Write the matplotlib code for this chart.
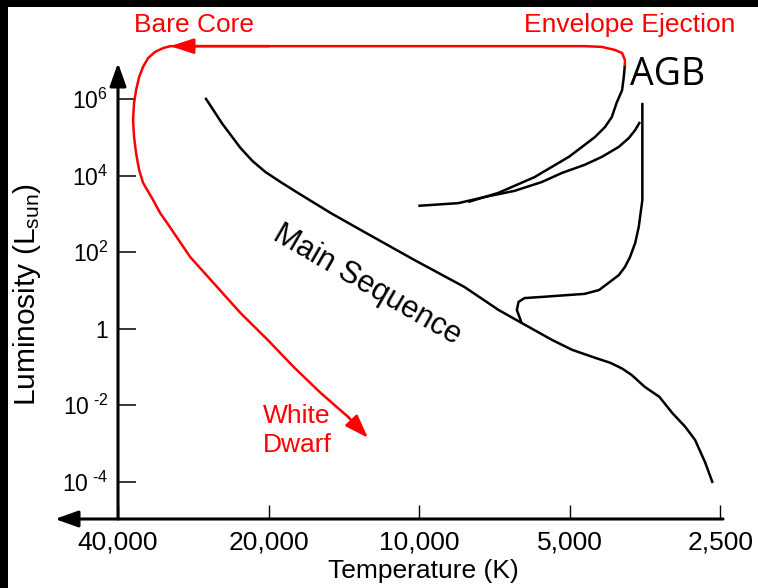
import numpy as np
import matplotlib
matplotlib.use("Agg")
import matplotlib.pyplot as plt
from matplotlib.patches import Rectangle
from matplotlib.ticker import FixedLocator, NullLocator

plt.rcParams['font.family'] = ['Liberation Sans', 'DejaVu Sans']
plt.rcParams['mathtext.fontset'] = 'custom'
plt.rcParams['mathtext.rm'] = 'Liberation Sans'
plt.rcParams['mathtext.it'] = 'Liberation Sans:italic'

# ---------------- data (temperature in K, log10 luminosity in L_sun) ----------
ms_T = [26760, 24740, 22760, 21540, 20280, 18920, 17490, 15020, 12890, 10240, 8120,
        6940, 6240, 5430, 4950, 4450, 4150, 3930, 3760, 3540, 3310, 3120, 2940, 2810,
        2680, 2590]
ms_logL = [6.03, 5.35, 4.72, 4.38, 4.09, 3.83, 3.55, 3.02, 2.53, 1.80, 1.09,
           0.49, 0.15, -0.29, -0.55, -0.76, -0.89, -1.04, -1.21, -1.52, -1.78, -2.20,
           -2.56, -2.90, -3.50, -4.03]

rgb_T = [6240, 6380, 6330, 6160, 5690, 4670, 4370, 4180, 3990, 3880, 3790, 3700,
         3640, 3580, 3580]
rgb_logL = [0.15, 0.49, 0.70, 0.80, 0.83, 0.91, 1.01, 1.20, 1.40, 1.61, 1.87, 2.24,
            2.66, 3.36, 5.90]

hb_T = [10040, 8350, 7400, 6450, 5690, 5180, 4670, 4310, 3990, 3810, 3700, 3620]
hb_logL = [3.21, 3.28, 3.44, 3.60, 3.83, 4.07, 4.28, 4.49, 4.75, 4.98, 5.19, 5.40]

agb_T = [7980, 6940, 5880, 5020, 4670, 4450, 4250, 4120, 4030, 3930, 3900, 3880]
agb_logL = [3.31, 3.55, 3.96, 4.49, 4.80, 5.01, 5.27, 5.53, 5.90, 6.23, 6.57, 6.89]

pn_T = [3880, 3880, 3930, 4060, 4310, 4670, 31460, 32490, 33720, 34820, 35640,
        36300, 36810, 37150, 37320, 37150, 36810, 36300, 35640, 34030,
        32940, 31900, 30450, 28680, 25790, 22760, 20090, 17820, 15730, 13880, 12660]
pn_logL = [6.89, 7.02, 7.20, 7.28, 7.36, 7.38, 7.38, 7.33, 7.23, 7.07, 6.84,
           6.57, 6.23, 5.90, 5.45, 5.01, 4.59, 4.15, 3.81, 3.36,
           3.02, 2.76, 2.37, 1.87, 1.20, 0.41, -0.29, -1.00, -1.68, -2.30, -2.85]

x_ticks = [40000, 20000, 10000, 5000, 2500]
x_labels = ['40,000', '20,000', '10,000', '5,000', '2,500']
y_ticks = [1e6, 1e4, 1e2, 1, 1e-2, 1e-4]
y_labels = [r'$\mathregular{10^{6}}$', r'$\mathregular{10^{4}}$', r'$\mathregular{10^{2}}$',
            '1', r'$\mathregular{10^{\text{ -2}}}$', r'$\mathregular{10^{\text{ -4}}}$']

# ---------------- figure ----------------
W, H = 758, 588
fig = plt.figure(figsize=(W / 100, H / 100), dpi=100)
fig.patch.set_facecolor('black')
fig.patches.append(Rectangle((8 / W, 0), 1 - 8 / W, 1 - 7 / H, transform=fig.transFigure,
                             facecolor='white', edgecolor='none', zorder=-10))

ax = fig.add_axes([118 / W, 1 - 519 / H, (723 - 118) / W, (519 - 63) / H])
ax.set_facecolor('none')
ax.set_xscale('log')
ax.set_yscale('log')
ax.set_xlim(40000, 2470)
ax.set_ylim(10 ** -4.97, 10 ** 6.94)
for s in ax.spines.values():
    s.set_visible(False)

L = lambda a: 10 ** np.array(a)
kw = dict(color='black', lw=1.8, solid_capstyle='butt', solid_joinstyle='round',
          clip_on=False)
ax.plot(ms_T, L(ms_logL), **kw)
ax.plot(rgb_T, L(rgb_logL), **kw)
ax.plot(hb_T, L(hb_logL), **kw)
ax.plot(agb_T, L(agb_logL), **kw)
ax.plot(pn_T[:-1], L(pn_logL[:-1]), color='red', lw=1.8, solid_joinstyle='round',
        clip_on=False)

# arrow heads on the red track
ax.annotate('', xy=(pn_T[-1], 10 ** pn_logL[-1]), xytext=(pn_T[-2], 10 ** pn_logL[-2]),
            arrowprops=dict(arrowstyle='-|>,head_length=0.8,head_width=0.28', color='red',
                            lw=1.8, shrinkA=0, shrinkB=0, mutation_scale=18),
            annotation_clip=False)
ax.annotate('', xy=(pn_T[6], 10 ** pn_logL[6]), xytext=(20000, 10 ** pn_logL[6]),
            arrowprops=dict(arrowstyle='-|>,head_length=0.8,head_width=0.26', color='red',
                            lw=1.8, shrinkA=0, shrinkB=0, mutation_scale=18),
            annotation_clip=False)

# axis lines with arrows
ax.annotate('', xy=(0, 1), xytext=(0, 0), xycoords='axes fraction',
            arrowprops=dict(arrowstyle='-|>,head_length=0.7,head_width=0.25', color='black',
                            lw=2.2, shrinkA=0, shrinkB=0, mutation_scale=20),
            annotation_clip=False)
ax.annotate('', xy=(-63 / 605, 0), xytext=(1, 0), xycoords='axes fraction',
            arrowprops=dict(arrowstyle='-|>,head_length=0.7,head_width=0.25', color='black',
                            lw=2.2, shrinkA=0, shrinkB=0, mutation_scale=20),
            annotation_clip=False)

# ticks
ax.set_xticks(x_ticks)
ax.set_xticklabels(x_labels)
ax.xaxis.set_minor_locator(NullLocator())
ax.set_yticks(y_ticks)
ax.set_yticklabels(y_labels)
ax.yaxis.set_minor_locator(FixedLocator(y_ticks))
ax.yaxis.set_minor_formatter(plt.NullFormatter())
ax.tick_params(axis='x', which='major', direction='in', length=10, width=1.0,
               labelsize=19, pad=8, colors='black')
ax.tick_params(axis='y', which='major', direction='in', length=13, width=1.1,
               labelsize=16.5, pad=7, colors='black')
ax.tick_params(axis='y', which='minor', direction='out', length=3.6, width=1.1)

# texts
ax.text(28150, 10 ** 7.75, 'Bare Core', color='red', fontsize=19, ha='center', va='baseline')
ax.text(3790, 10 ** 7.75, 'Envelope Ejection', color='red', fontsize=19, ha='center',
        va='baseline')
ax.text(3790, 10 ** 6.37, 'AGB', color='black', fontsize=27, ha='left', va='baseline',
        family=['Open Sans', 'DejaVu Sans'])
ax.text(20570, 10 ** -1.96, 'White\nDwarf', color='red', fontsize=19, ha='left', va='top',
        linespacing=1.3)
ax.text(12720, 10 ** 1.14, 'Main Sequence', color='black', fontsize=22, ha='center',
        va='center', rotation=-30, rotation_mode='anchor')

fig.text(423 / W, 1 - 571 / H, 'Temperature (K)', fontsize=19, ha='center', va='center')
fig.text(27 / W, 1 - 295 / H, r'Luminosity (L$_{\mathregular{sun}}$)', fontsize=21.5,
         ha='center', va='center', rotation=90)

fig.savefig('out.png', dpi=100, facecolor=fig.get_facecolor())
